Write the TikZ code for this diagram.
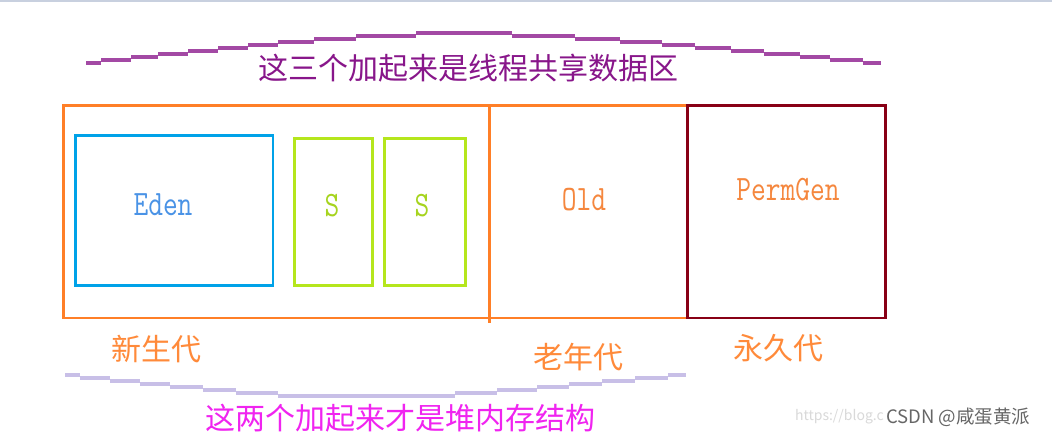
\documentclass[tikz,border=0pt]{standalone}
\usepackage{fontspec}
\usepackage{graphicx}
\newfontfamily\cjk{Noto Sans CJK SC}
\definecolor{topgray}{HTML}{C8D0DF}
\definecolor{stepPurple}{HTML}{A349A4}
\definecolor{sharedText}{HTML}{88168A}
\definecolor{stepLav}{HTML}{C8BFE7}
\definecolor{heapText}{HTML}{F024F0}
\definecolor{genOrange}{HTML}{FF7F27}
\definecolor{labOrange}{HTML}{FF8A3A}
\definecolor{edenBlue}{HTML}{00A2E8}
\definecolor{edenText}{HTML}{4A93E6}
\definecolor{survGreen}{HTML}{B5E61D}
\definecolor{survText}{HTML}{A6D41E}
\definecolor{oldText}{HTML}{F5873E}
\definecolor{permRed}{HTML}{880015}
\newcommand\tallmono[1]{\scalebox{1}[1.25]{\fontsize{28.6}{30}\selectfont\ttfamily #1}}
\tikzset{
  stepline/.style={line width=3.2pt, line cap=butt},
  boxline/.style={line width=2.7pt, line join=miter},
  monolabel/.style={anchor=base, inner sep=0pt},
  cjklabel/.style={anchor=center, inner sep=0pt, font=\cjk\fontsize{30}{32}\selectfont},
}
\begin{document}
\begin{tikzpicture}[x=1pt,y=-1pt]
\useasboundingbox (0,0) rectangle (1052,438);
\fill[white] (0,0) rectangle (1052,438);
\fill[topgray] (0,0) rectangle (1052,2);

% top stepped brace
\foreach \a/\b/\c in {86/101/63, 101/131/60, 131/158/57, 158/188/54, 188/218/51,
  218/248/48, 248/278/45, 278/314/42, 314/356/39, 356/416/36, 416/512/33,
  512/575/36, 575/620/39, 620/662/42, 662/695/45, 695/731/48, 731/764/51,
  764/800/54, 800/830/57, 830/863/60, 863/881/63}
  \draw[stepline, stepPurple] (\a,\c) -- (\b,\c);

% bottom stepped brace
\foreach \a/\b/\c in {65/80/375, 80/110/378, 110/140/381, 140/170/384, 170/203/387,
  203/236/390, 236/278/393, 278/455/396, 455/497/393, 497/537/390, 537/569/387,
  569/602/384, 602/635/381, 635/668/378, 668/686/375}
  \draw[stepline, stepLav] (\a,\c) -- (\b,\c);

% young generation box
\draw[boxline, genOrange] (63.3,105.7) rectangle (489.3,318);
% old generation box
\draw[boxline, genOrange] (489.3,105.7) -- (687.2,105.7);
\draw[boxline, genOrange] (489.3,318) -- (687.2,318);
\draw[boxline, genOrange] (489.3,105.7) -- (489.3,322.7);
% permgen box
\draw[boxline, permRed] (687.2,105.7) rectangle (885.5,318);

% eden and survivors
\draw[boxline, edenBlue] (75.7,135.7) rectangle (273,285.3);
\draw[boxline, survGreen] (294.7,138.2) rectangle (372.7,285.3);
\draw[boxline, survGreen] (384.5,138.2) rectangle (465.8,285.3);

% latin labels
\node[monolabel, text=edenText] (eden) at (163,216) {\tallmono{Eden}};
\node[monolabel, text=survText] (s1) at (332,217) {\tallmono{S}};
\node[monolabel, text=survText] (s2) at (422,217) {\tallmono{S}};
\node[monolabel, text=oldText] (old) at (584,210.7) {\tallmono{Old}};
\node[monolabel, text=oldText] (perm) at (788,201) {\tallmono{PermGen}};

% chinese labels
\node[cjklabel, text=sharedText] (shared) at (468,68.5) {这三个加起来是线程共享数据区};
\node[cjklabel, text=labOrange] (young) at (156.5,349.5) {新生代};
\node[cjklabel, text=labOrange] (oldcn) at (578.5,357.5) {老年代};
\node[cjklabel, text=labOrange] (permcn) at (778,348.5) {永久代};
\node[cjklabel, text=heapText] (heap) at (400.5,418.5) {这两个加起来才是堆内存结构};

% watermark
\node[anchor=east, inner sep=0pt, text=black!15, font=\cjk\fontsize{14}{16}\selectfont] (url) at (884,417) {https://blog.c};
\node[anchor=west, inner sep=0pt, text=black!60, font=\cjk\fontsize{18.5}{20}\selectfont] (mark) at (886,417) {CSDN @咸蛋黄派};
\end{tikzpicture}
\end{document}
